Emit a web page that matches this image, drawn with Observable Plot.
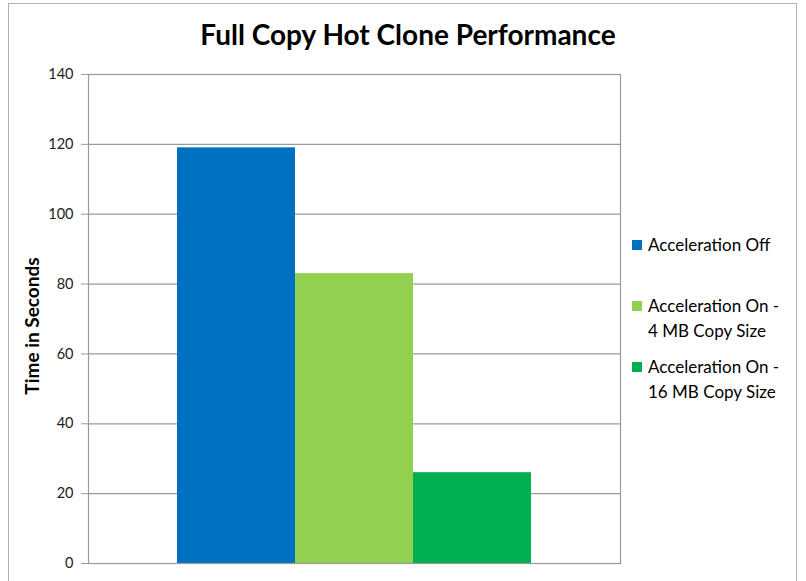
<!DOCTYPE html>
<html>
<head>
<meta charset="utf-8">
<script src="https://cdn.jsdelivr.net/npm/d3@7"></script>
<script src="https://cdn.jsdelivr.net/npm/@observablehq/plot@0.6"></script>
<style>
  body { margin: 0; background: #fff; }
  #wrap { position: relative; width: 806px; height: 581px; overflow: hidden; font-family: Lato, "Open Sans", sans-serif; }
  #border { position: absolute; left: 8px; top: 3px; width: 789px; height: 620px; border: 1px solid #b0b0b0; box-sizing: border-box; }
  #title { position: absolute; left: 0; width: 816px; top: 17px; text-align: center; font-size: 28px; font-weight: bold; color: #000; }
  #chart { position: absolute; left: 0; top: 0; }
  .leg { position: absolute; left: 632px; font-size: 17px; color: #000; line-height: 25px; }
  .sw { position: absolute; left: 0; top: 8px; width: 10px; height: 10px; }
  .lt { margin-left: 16px; white-space: nowrap; }
</style>
</head>
<body>
<div id="wrap">
  <div id="border"></div>
  <div id="chart"></div>
  <div id="title"></div>
  <div id="legend"></div>
</div>
<script>
const title = "Full Copy Hot Clone Performance";
const yLabel = "Time in Seconds";
const series = ["Acceleration Off", "Acceleration On - 4 MB Copy Size", "Acceleration On - 16 MB Copy Size"];
const legendLines = [["Acceleration Off"], ["Acceleration On -", "4 MB Copy Size"], ["Acceleration On -", "16 MB Copy Size"]];
const values = [119, 83, 26];
const colors = ["#0070C0", "#92D050", "#00B050"];
const yTicks = [0, 20, 40, 60, 80, 100, 120, 140];

const data = series.map((s, i) => ({series: s, value: values[i]}));

const chart = Plot.plot({
  width: 806,
  height: 581,
  marginLeft: 88,
  marginRight: 186,
  marginTop: 74,
  marginBottom: 18,
  style: {fontFamily: "Lato, 'Open Sans', sans-serif", fontSize: "14.5px", color: "#222", background: "transparent"},
  x: {domain: series, paddingInner: 0, paddingOuter: 0.75, axis: null},
  y: {domain: [0, 140], ticks: yTicks},
  color: {domain: series, range: colors},
  marks: [
    Plot.gridY(yTicks, {stroke: "#9a9a9a", strokeOpacity: 1, strokeWidth: 1.2}),
    Plot.barY(data, {x: "series", y: "value", fill: "series", inset: 0}),
    Plot.frame({stroke: "#9a9a9a", strokeWidth: 1.2}),
    Plot.axisY(yTicks, {tickSize: 7, tickPadding: 8, stroke: "#9a9a9a", label: null}),
    Plot.text([yLabel], {frameAnchor: "left", textAnchor: "middle", dx: -56, dy: 7, rotate: -90, fontSize: 19, fontWeight: "bold", fill: "#000"})
  ]
});
document.getElementById("chart").appendChild(chart);
document.getElementById("title").textContent = title;

const legTops = [232, 293, 354];
const leg = document.getElementById("legend");
legendLines.forEach((lines, i) => {
  const d = document.createElement("div");
  d.className = "leg";
  d.style.top = legTops[i] + "px";
  const sw = document.createElement("div");
  sw.className = "sw";
  sw.style.background = colors[i];
  d.appendChild(sw);
  lines.forEach(l => {
    const t = document.createElement("div");
    t.className = "lt";
    t.textContent = l;
    d.appendChild(t);
  });
  leg.appendChild(d);
});
</script>
</body>
</html>
